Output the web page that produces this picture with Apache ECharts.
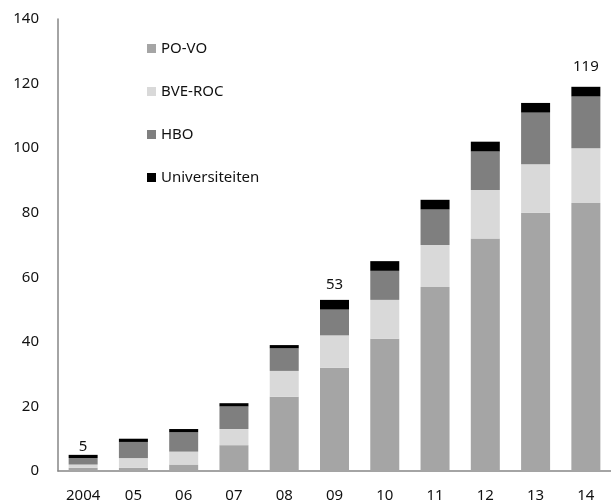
<!DOCTYPE html>
<html>
<head>
<meta charset="utf-8">
<script src="https://cdn.jsdelivr.net/npm/echarts@6/dist/echarts.min.js"></script>
<style>
* {
  padding: 0;
  margin: 0;
}
</style>
</head>
<body>
<div id="chart" style="width: 611px; height: 504px"></div>
<script>
const years = ["2004", "05", "06", "07", "08", "09", "10", "11", "12", "13", "14"];
const poVo = [1, 1, 2, 8, 23, 32, 41, 57, 72, 80, 83];
const bveRoc = [1, 3, 4, 5, 8, 10, 12, 13, 15, 15, 17];
const hbo = [2, 5, 6, 7, 7, 8, 9, 11, 12, 16, 16];
const universiteiten = [1, 1, 1, 1, 1, 3, 3, 3, 3, 3, 3];
const labeledYears = ["2004", "09", "14"];
const yTicks = { min: 0, max: 140, interval: 20 };

const font = "Noto Sans";
// the total labels sit at different heights above the bars in the original
const labelDistance = { "2004": 1, "09": 8, "14": 13 };
const totals = years.map((y, i) => poVo[i] + bveRoc[i] + hbo[i] + universiteiten[i]);

const chart = echarts.init(document.getElementById("chart"));
chart.setOption({
  animation: false,
  grid: {
    left: 58,
    right: -8,
    top: 19,
    bottom: 33,
  },
  legend: {
    orient: "vertical",
    left: 147,
    top: 41,
    padding: 0,
    itemWidth: 9,
    itemHeight: 9,
    itemGap: 28,
    icon: "rect",
    textStyle: {
      fontFamily: font,
      fontSize: 15,
      color: "#111",
    },
    data: ["PO-VO", "BVE-ROC", "HBO", "Universiteiten"],
  },
  xAxis: {
    type: "category",
    data: years,
    axisTick: { show: false },
    axisLine: { lineStyle: { color: "#868686", width: 1.5 } },
    axisLabel: {
      margin: 17,
      fontFamily: font,
      fontSize: 15,
      color: "#111",
    },
  },
  yAxis: {
    type: "value",
    min: yTicks.min,
    max: yTicks.max,
    interval: yTicks.interval,
    splitLine: { show: false },
    axisTick: { show: false },
    axisLine: { show: true, lineStyle: { color: "#868686", width: 1.5 } },
    axisLabel: {
      margin: 19,
      fontFamily: font,
      fontSize: 15,
      color: "#111",
    },
  },
  series: [
    {
      name: "PO-VO",
      type: "bar",
      stack: "total",
      barWidth: 29,
      itemStyle: { color: "#a5a5a5" },
      data: poVo,
    },
    {
      name: "BVE-ROC",
      type: "bar",
      stack: "total",
      itemStyle: { color: "#d9d9d9" },
      data: bveRoc,
    },
    {
      name: "HBO",
      type: "bar",
      stack: "total",
      itemStyle: { color: "#7f7f7f" },
      data: hbo,
    },
    {
      name: "Universiteiten",
      type: "bar",
      stack: "total",
      itemStyle: { color: "#000000" },
      data: universiteiten.map((v, i) => ({
        value: v,
        label: {
          show: labeledYears.includes(years[i]),
          position: "top",
          distance: labelDistance[years[i]] || 5,
          formatter: String(totals[i]),
          fontFamily: font,
          fontSize: 15,
          color: "#111",
        },
      })),
    },
  ],
});
</script>
</body>
</html>
